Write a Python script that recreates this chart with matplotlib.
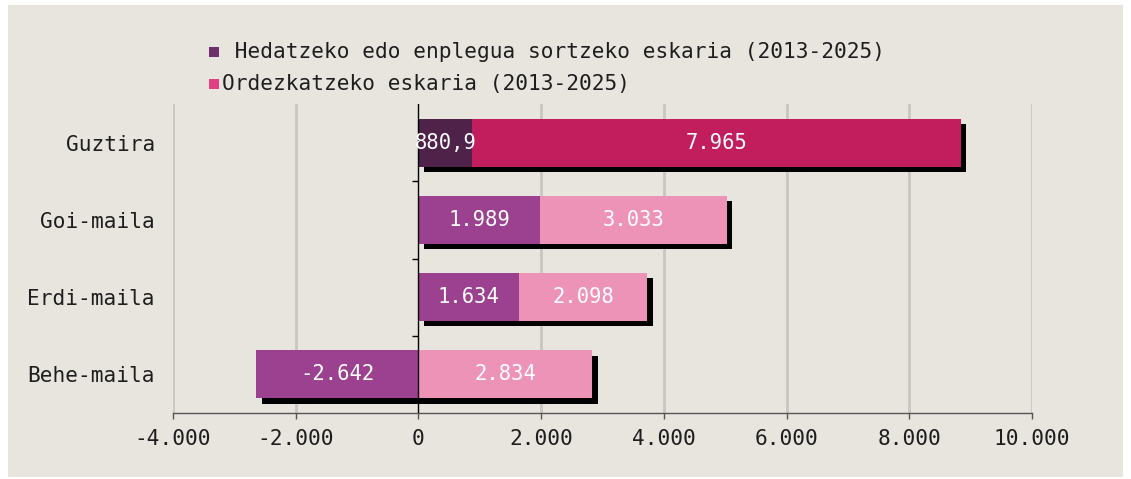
import matplotlib
matplotlib.use("Agg")
import matplotlib.pyplot as plt
from matplotlib.patches import Rectangle
from matplotlib.markers import TICKLEFT
import matplotlib.patheffects as pe

# Data
categories = ["Guztira", "Goi-maila", "Erdi-maila", "Behe-maila"]
expansion = [880.9, 1989, 1634, -2642]
replacement = [7965, 3033, 2098, 2834]
series_names = [" Hedatzeko edo enplegua sortzeko eskaria (2013-2025)",
                "Ordezkatzeko eskaria (2013-2025)"]
xticks = [-4000, -2000, 0, 2000, 4000, 6000, 8000, 10000]

expansion_colors = ["#4e2249", "#9b418f", "#9b418f", "#9b418f"]
replacement_colors = ["#c21e5d", "#ee93b8", "#ee93b8", "#ee93b8"]
legend_colors = ["#6e3068", "#e0407f"]

BG = "#e8e5df"
FONT = "DejaVu Sans Mono"
TXT = "#1e1e1e"
FS = 15.2
plt.rcParams["font.family"] = FONT


def fmt(v):
    if float(v).is_integer():
        s = f"{v:,.0f}"
    else:
        s = f"{v:,.1f}"
    return s.replace(",", "#").replace(".", ",").replace("#", ".")


W, H = 1131, 479
fig = plt.figure(figsize=(W / 100, H / 100), dpi=100, facecolor="white")
fig.add_artist(Rectangle((8 / W, 2 / H), (W - 16) / W, (H - 7) / H,
                         transform=fig.transFigure, facecolor=BG,
                         edgecolor="none", zorder=-10))

ax = fig.add_axes([173 / W, 1 - 413 / H, (1032 - 173) / W, (413 - 104) / H])
ax.set_facecolor("none")

y = list(range(len(categories)))
shadow = [pe.SimplePatchShadow(offset=(3.8, -3.8), shadow_rgbFace="black",
                               alpha=1.0), pe.Normal()]

# stacked segments: expansion from 0, replacement continues after positive expansion
rep_left = [max(e, 0) for e in expansion]
ax.barh(y, expansion, height=0.62, color=expansion_colors, zorder=3,
        path_effects=shadow)
ax.barh(y, replacement, left=rep_left, height=0.62,
        color=replacement_colors, zorder=3, path_effects=shadow)

for i in y:
    e = expansion[i]
    ax.text(e / 2, i, fmt(e), ha="center", va="center", color="white",
            fontsize=14.8, zorder=5)
    r = replacement[i]
    ax.text(rep_left[i] + r / 2, i, fmt(r), ha="center", va="center",
            color="white", fontsize=14.8, zorder=5)

ax.set_xlim(-4000, 10000)
ax.set_ylim(len(categories) - 0.5, -0.5)
ax.set_xticks(xticks)
ax.set_xticklabels([fmt(t) for t in xticks])
ax.set_yticks(y)
ax.set_yticklabels(categories)

for x in xticks:
    if x != 0:
        ax.axvline(x, color="#c8c6c2", lw=2, zorder=1)
ax.axvline(0, color="black", lw=1, zorder=4)
ax.plot([0] * (len(categories) - 1), [i + 0.5 for i in range(len(categories) - 1)],
        ls="none", marker=TICKLEFT, markersize=4, color="black", mew=1, zorder=4)

for s in ["top", "right", "left"]:
    ax.spines[s].set_visible(False)
ax.spines["bottom"].set_color("#555555")
ax.spines["bottom"].set_linewidth(1)
ax.tick_params(axis="x", length=4.5, width=1, color="#555555", pad=7,
               labelsize=FS, labelcolor=TXT)
ax.tick_params(axis="y", length=0, pad=13, labelsize=FS, labelcolor=TXT)

# legend
for k, (name, col) in enumerate(zip(series_names, legend_colors)):
    yc = [52, 84][k]
    fig.add_artist(Rectangle((209 / W, 1 - (yc + 5) / H), 10 / W, 10 / H,
                             transform=fig.transFigure, facecolor=col,
                             edgecolor="none"))
    fig.text(222 / W, 1 - yc / H, name, ha="left", va="center",
             fontsize=FS, color=TXT)

fig.savefig("out.png", dpi=100, facecolor="white")
